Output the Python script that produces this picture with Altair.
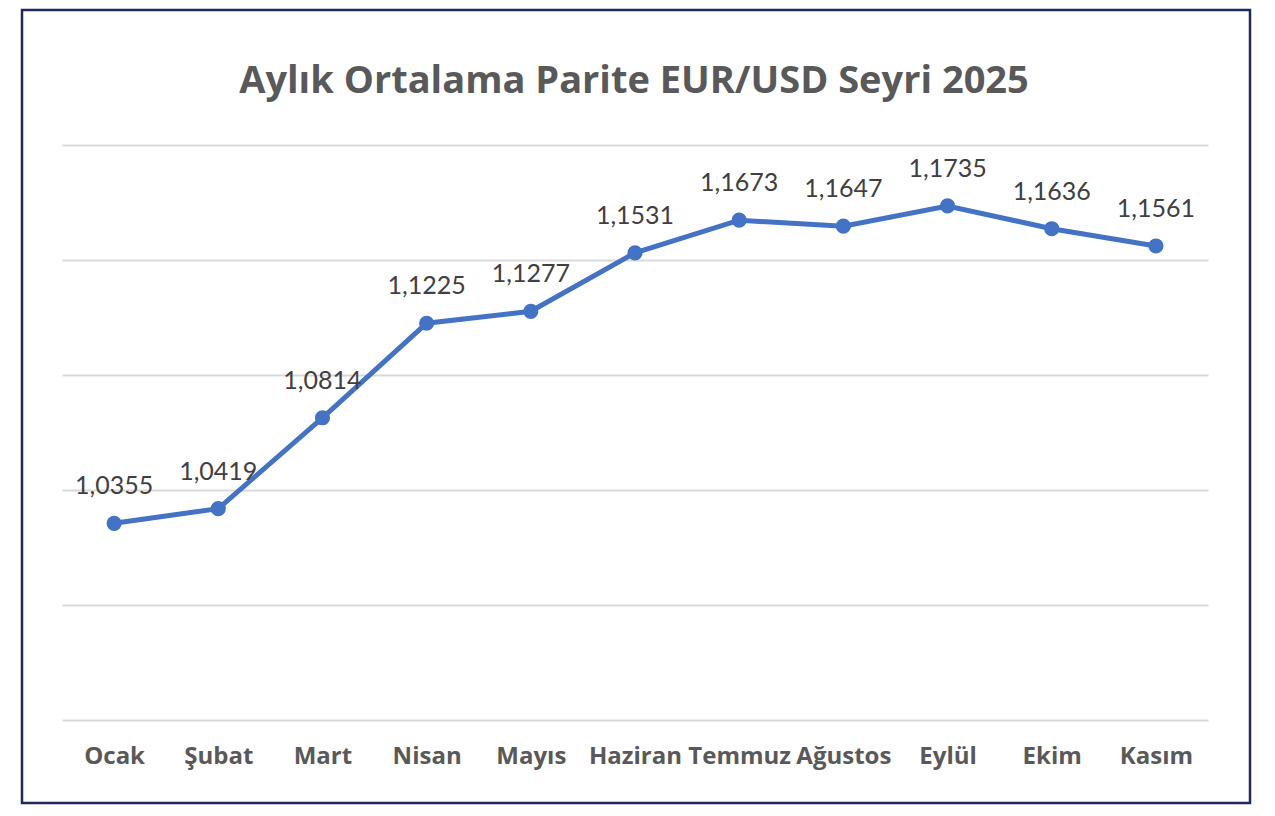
import altair as alt
import pandas as pd

title_text = "Aylık Ortalama Parite EUR/USD Seyri 2025"
months = ["Ocak", "Şubat", "Mart", "Nisan", "Mayıs", "Haziran", "Temmuz",
          "Ağustos", "Eylül", "Ekim", "Kasım"]
values = [1.0355, 1.0419, 1.0814, 1.1225, 1.1277, 1.1531, 1.1673,
          1.1647, 1.1735, 1.1636, 1.1561]
labels = ["1,0355", "1,0419", "1,0814", "1,1225", "1,1277", "1,1531", "1,1673",
          "1,1647", "1,1735", "1,1636", "1,1561"]
y_ticks = [0.95, 1.0, 1.05, 1.1, 1.15, 1.2]

df = pd.DataFrame({"month": months, "value": values, "label": labels})

W, H = 1146, 575
PAD_L, PAD_T = 54, 137

x = alt.X("month:N", sort=months, scale=alt.Scale(paddingOuter=0.5, paddingInner=0),
          axis=alt.Axis(title=None, labelAngle=0, labelFont="Open Sans", labelFontWeight="bold",
                        labelFontSize=24, labelColor="#595959", labelPadding=24,
                        ticks=False, domain=False, grid=False))
y = alt.Y("value:Q", scale=alt.Scale(domain=[0.95, 1.2], nice=False, zero=False),
          axis=alt.Axis(title=None, values=y_ticks, labels=False, ticks=False, domain=False,
                        grid=True, gridColor="#d9d9d9", gridWidth=2))

base = alt.Chart(df)

line = base.mark_line(color="#4472C4", strokeWidth=5).encode(x=x, y=y)
pts = base.mark_circle(color="#4472C4", size=230, opacity=1).encode(x=x, y=y)
txt = base.mark_text(font="Lato", fontSize=25, color="#404040", dy=-37).encode(
    x=x, y=y, text="label:N")

title = alt.Chart(pd.DataFrame({"t": [title_text]})).mark_text(
    font="Open Sans", fontSize=38, fontWeight="bold", color="#595959",
    baseline="alphabetic", align="center"
).encode(x=alt.value(W / 2 - 1), y=alt.value(93 - 8 - PAD_T), text="t:N")

frame = alt.Chart(pd.DataFrame({"a": [0]})).mark_rect(
    fill=None, stroke="#1F2A5A", strokeWidth=2.5, clip=False
).encode(x=alt.value(22 - 8 - PAD_L), x2=alt.value(1250 - 8 - PAD_L),
         y=alt.value(10 - 8 - PAD_T), y2=alt.value(803 - 8 - PAD_T))

chart = alt.layer(frame, line, pts, txt, title).properties(
    width=W, height=H,
    autosize=alt.AutoSizeParams(type="none"),
    padding={"left": PAD_L, "top": PAD_T, "right": 50, "bottom": 85},
).configure_view(stroke=None)

chart.save("out.html", embed_options={"renderer": "svg", "actions": False})
